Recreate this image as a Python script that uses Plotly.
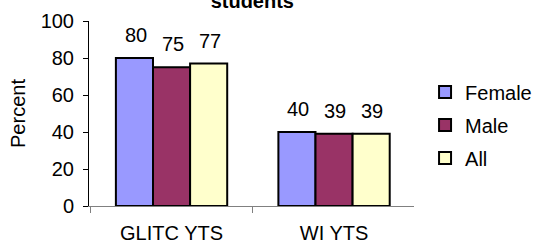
import plotly.graph_objects as go

categories = ["GLITC YTS", "WI YTS"]
female = [80, 40]
male = [75, 39]
all_ = [77, 39]
series_names = ["Female", "Male", "All"]
colors = ["#9999FF", "#993366", "#FFFFCC"]
series = [female, male, all_]

FONT = "Arial"
FS = 20

fig = go.Figure()
for name, vals, col in zip(series_names, series, colors):
    fig.add_trace(go.Bar(
        x=categories, y=vals, name=name, legendgroup=name,
        marker=dict(color=col, line=dict(color="black", width=2)),
    ))

# value labels above bars
bar_px = 37
for i, vals in enumerate(series):
    for cat, v in zip(categories, vals):
        fig.add_annotation(x=cat, y=v, text=str(v), showarrow=False,
                           xref="x", yref="y", yanchor="bottom",
                           xshift=(i - 1) * bar_px + 1, yshift=10,
                           font=dict(family=FONT, size=FS, color="black"))

fig.update_layout(
    width=538, height=243,
    margin=dict(l=89, r=124, t=21, b=37, autoexpand=False),
    paper_bgcolor="white", plot_bgcolor="white",
    barmode="group", bargap=0.315, bargroupgap=0,
    font=dict(family=FONT, size=FS, color="black"),
    title=dict(text="<b>students</b>", x=0.469, xanchor="center",
               y=1 - 8 / 243, yref="container", yanchor="bottom",
               font=dict(family=FONT, size=FS, color="black")),
    legend=dict(x=1.034, xref="paper", xanchor="left", y=0.438, yanchor="middle",
                font=dict(family=FONT, size=FS), itemwidth=30,
                tracegroupgap=4, traceorder="grouped", bgcolor="rgba(0,0,0,0)"),
)
fig.update_yaxes(range=[0, 100], tickvals=[0, 20, 40, 60, 80, 100],
                 showgrid=False, showline=True, linecolor="black", linewidth=1,
                 ticks="outside", ticklen=5, tickcolor="black",
                 ticklabelstandoff=5, automargin=False,
                 title=dict(text="Percent", font=dict(size=FS), standoff=9),
                 zeroline=False)
fig.update_xaxes(showline=True, linecolor="#808080", linewidth=1,
                 ticks="outside", ticklen=6, tickcolor="#808080",
                 tickson="boundaries", showgrid=False, automargin=False,
                 range=[-0.508, 1.492], ticklabelstandoff=9)

fig.write_html("out.html", config={"displayModeBar": False},
               post_script="document.body.style.margin='0';document.body.style.overflow='hidden';")
